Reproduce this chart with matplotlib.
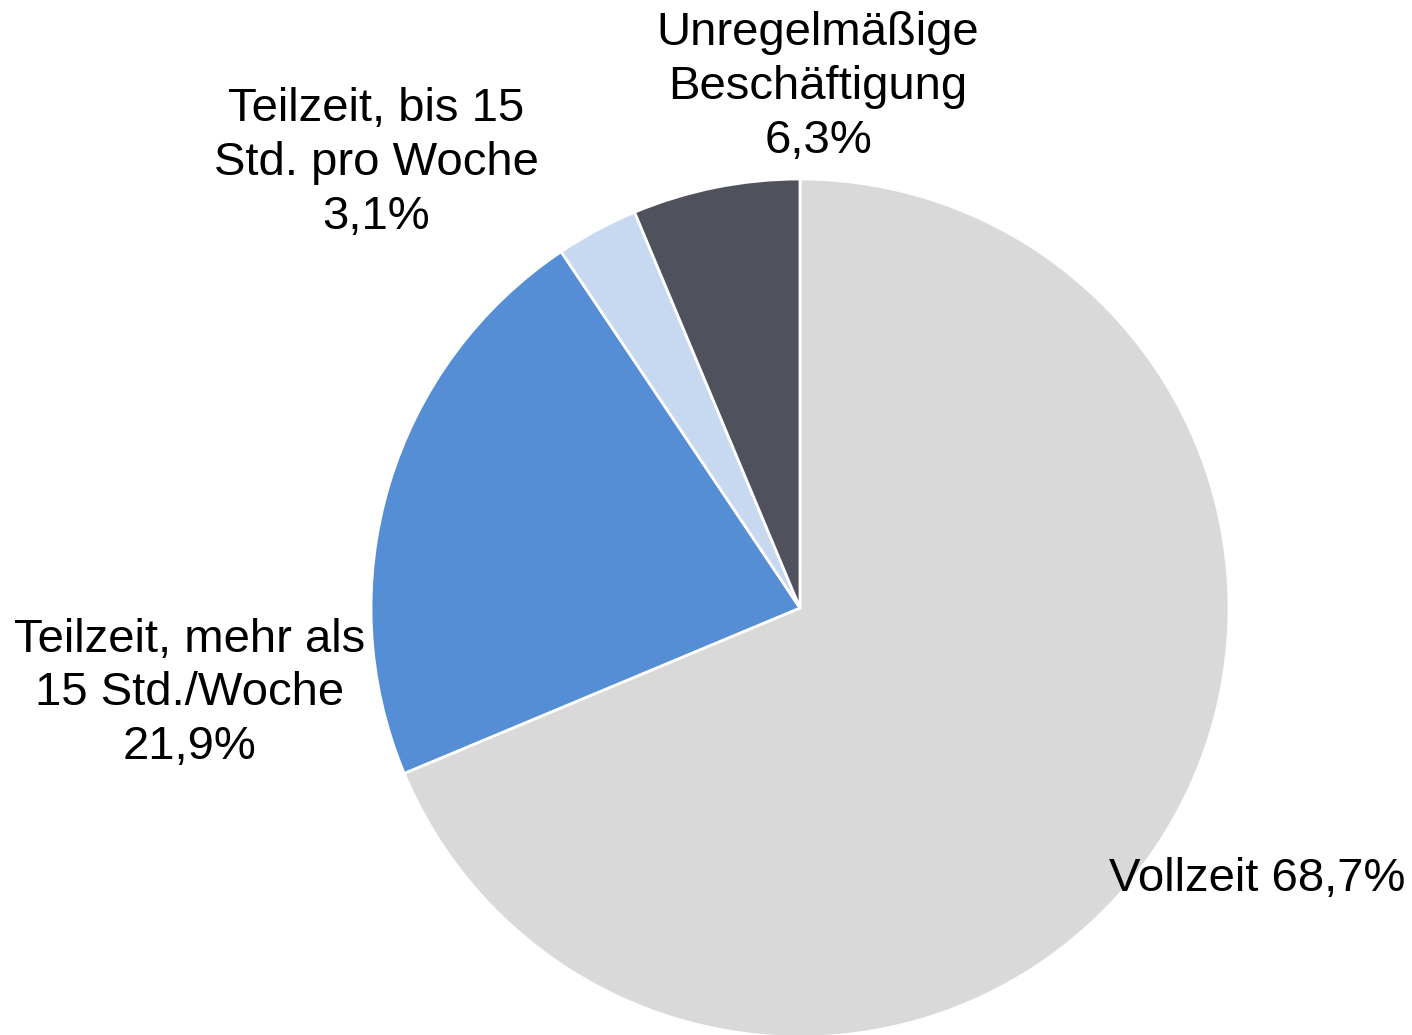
import numpy as np
import matplotlib.pyplot as plt

plt.rcParams['font.family'] = ['Liberation Sans', 'DejaVu Sans']

# data
categories = ["Vollzeit", "Teilzeit, mehr als\n15 Std./Woche", "Teilzeit, bis 15\nStd. pro Woche", "Unregelmäßige\nBeschäftigung"]
shares = [68.7, 21.9, 3.1, 6.3]
pct_labels = ["68,7%", "21,9%", "3,1%", "6,3%"]
colors = ["#d9d9d9", "#558ed5", "#c6d9f1", "#4f515c"]

W, H = 1412, 1035
cx, cy, r = 800, 608, 429

fig = plt.figure(figsize=(W / 100, H / 100), dpi=100)
ax = fig.add_axes([0, 0, 1, 1])

ax.pie(shares, colors=colors, startangle=90, counterclock=False,
       wedgeprops=dict(edgecolor="white", linewidth=2))

ax.set_xlim(-cx / r, (W - cx) / r)
ax.set_ylim((cy - H) / r, cy / r)
ax.set_aspect('auto')
ax.axis('off')

# label positions (in pie radius units)
label_pos = [(1.066, -0.631), (-1.422, -0.199), (-0.988, 1.037), (0.042, 1.214)]
for i, (name, pct) in enumerate(zip(categories, pct_labels)):
    if i == 0:
        txt = f"{name} {pct}"
    else:
        txt = f"{name}\n{pct}"
    ax.text(label_pos[i][0], label_pos[i][1], txt, ha='center', va='center',
            fontsize=34, linespacing=1.29, color="black")

plt.savefig("out.png", dpi=100)
